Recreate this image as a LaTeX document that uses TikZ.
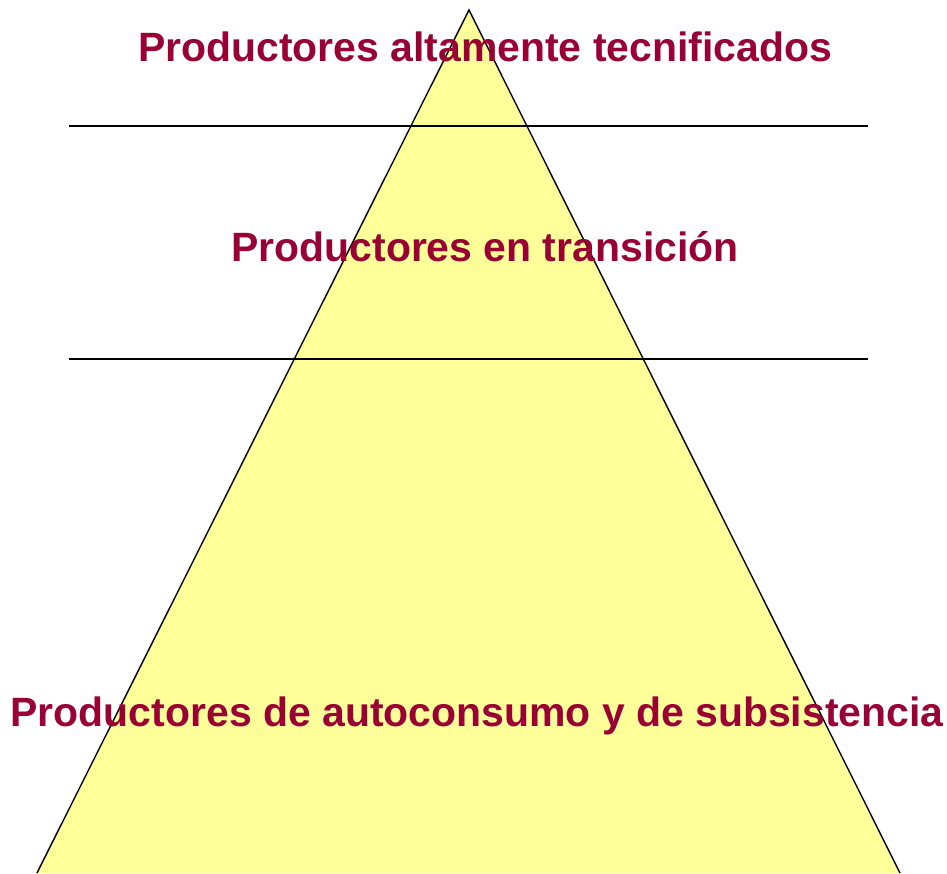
\documentclass[tikz,border=0pt]{standalone}
\usepackage{fontspec}
\setmainfont{Liberation Sans}
\usepackage{tikz}
\definecolor{nivelrojo}{HTML}{990033}
\definecolor{piramide}{HTML}{FFFF99}
\tikzset{nivel/.style={anchor=base, text=nivelrojo, font=\fontsize{23.3}{28}\selectfont\bfseries, inner sep=0pt}}
\newcommand{\corte}[1]{ \draw[thick] (69, #1) -- (868, #1);}

\begin{document}
\begin{tikzpicture}[x=0.02cm, y=-0.02cm]
        \useasboundingbox (0,0) rectangle (947,873);
        % pyramid
        \coordinate (cima) at (469,10);
        \coordinate (izq) at (37,873);
        \coordinate (der) at (900,873);
        \filldraw[fill=piramide, draw=black, thick] (izq) -- (cima) -- (der);
        % levels
        \corte{126}
        \corte{359}
        % labels
        \node[nivel] (alto) at (485,61) {Productores altamente tecnificados};
        \node[nivel] (medio) at (485,261) {Productores en transición};
        \node[nivel] (bajo) at (477,726) {Productores de autoconsumo y de subsistencia};
    \end{tikzpicture}
\end{document}
